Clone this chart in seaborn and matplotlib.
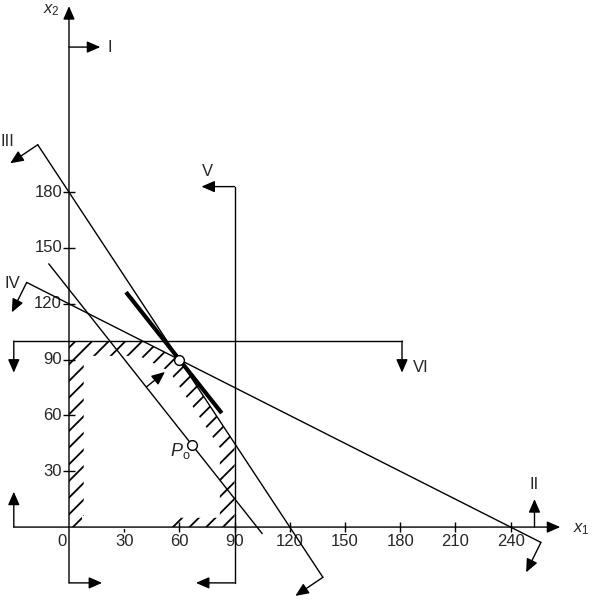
import numpy as np
import pandas as pd
import matplotlib.pyplot as plt
import seaborn as sns
from matplotlib.patches import Polygon, Rectangle

# constraints  a1*x1 + a2*x2 <= b   (III, IV)
con_names = ['III', 'IV']
con_a1 = [3, 1]
con_a2 = [2, 2]
con_b = [360, 240]
con_x_from = [-17, -23]
con_x_to = [138, 256.5]
x1_max = 90    # V
x2_max = 100   # VI

# objective 5 x1 + 4 x2
obj_c = [5, 4]
p0 = [67, 44]
opt = [60, 90]

xticks = [30, 60, 90, 120, 150, 180, 210, 240]
yticks = [30, 60, 90, 120, 150, 180]

sns.set_theme(style='white')
plt.rcParams['font.family'] = ['Liberation Sans', 'DejaVu Sans']
plt.rcParams['mathtext.fontset'] = 'custom'
plt.rcParams['mathtext.it'] = 'Liberation Sans:italic'
plt.rcParams['mathtext.rm'] = 'Liberation Sans'
plt.rcParams['hatch.linewidth'] = 1.3

fig = plt.figure(figsize=(5.93, 6.08), dpi=100)
ax = fig.add_axes([0, 0, 1, 1])
ax.set_xlim(-37.5, 284.8)
ax.set_ylim(-43.5, 283.3)
ax.axis('off')
fs = 12
K = 'black'


def arrow(tail, head):
    ax.annotate('', xy=head, xytext=tail,
                arrowprops=dict(arrowstyle='-|>,head_length=0.8,head_width=0.35',
                                color=K, lw=1, shrinkA=0, shrinkB=0,
                                mutation_scale=10), zorder=5)


# axes with arrows
arrow((-30, 0), (267, 0))
arrow((0, -30), (0, 280))
ax.text(274, -1, r'$x_1$', fontsize=fs, va='center', ha='left')
ax.text(-5, 278, r'$x_2$', fontsize=fs, va='center', ha='right')

# ticks and labels
ax.plot(xticks, [0] * len(xticks), ls='none', marker='|', ms=7, mew=1, color=K)
ax.plot([0] * len(yticks), yticks, ls='none', marker='_', ms=8, mew=1, color=K)
for t in xticks:
    ax.text(t, -7.5, str(t), fontsize=fs, ha='center', va='center')
for t in yticks:
    ax.text(-3.8, t, str(t), fontsize=fs, ha='right', va='center')
ax.text(-3.8, -7.5, '0', fontsize=fs, ha='center', va='center')

# hatched band inside feasible region
A = np.array([[0, -1], [1, 0], [con_a1[0], con_a2[0]], [con_a1[1], con_a2[1]], [0, 1], [-1, 0]], float)
B = np.array([0, x1_max, con_b[0], con_b[1], x2_max, 0], float)


def vertices(offs):
    bb = B - np.array(offs) * np.linalg.norm(A, axis=1)
    pts = []
    for i in range(len(A)):
        j = (i + 1) % len(A)
        pts.append(np.linalg.solve(A[[i, j]], bb[[i, j]]))
    return np.array(pts)


feas = vertices([0] * 6)
inner = vertices([5, 8, 8, 8, 8, 8])
ax.add_patch(Polygon(feas, closed=True, facecolor='none', edgecolor=K, lw=0,
                     hatch='//', zorder=1))
ax.add_patch(Polygon(inner, closed=True, facecolor='white', edgecolor='none', zorder=2))
ax.add_patch(Rectangle((7, -1), 46, 7, facecolor='white', edgecolor='none', zorder=2))

# constraint lines III and IV
rows = []
for n, a1, a2, b, x0, x1 in zip(con_names, con_a1, con_a2, con_b, con_x_from, con_x_to):
    for x in (x0, x1):
        rows.append({'line': n, 'x1': x, 'x2': (b - a1 * x) / a2})
# objective lines through P0 and optimum
z0 = obj_c[0] * p0[0] + obj_c[1] * p0[1]
zopt = obj_c[0] * opt[0] + obj_c[1] * opt[1]
for x in (-11, 105):
    rows.append({'line': 'z0', 'x1': x, 'x2': (z0 - obj_c[0] * x) / obj_c[1]})
df = pd.DataFrame(rows)
sns.lineplot(data=df, x='x1', y='x2', units='line', estimator=None, sort=False,
             color=K, lw=1, ax=ax, zorder=3)
zx = np.array([31, 83])
ax.plot(zx, (zopt - obj_c[0] * zx) / obj_c[1], color=K, lw=3, zorder=3, solid_capstyle='butt')

# V and VI
ax.plot([x1_max, x1_max], [-30, 183], color=K, lw=1, zorder=3)
ax.plot([-30, 181], [x2_max, x2_max], color=K, lw=1, zorder=3)

# direction arrows
arrow((0, 258), (17, 258))
ax.text(21, 258, 'I', fontsize=fs, va='center', ha='left')
arrow((0, -30), (18, -30))
arrow((-30, 0), (-30, 19))
arrow((253, 0), (253, 15))
ax.text(253, 23, 'II', fontsize=fs, va='center', ha='center')
arrow((x1_max, 183), (x1_max - 18, 183))
ax.text(75, 191, 'V', fontsize=fs, va='center', ha='center')
arrow((x1_max, -30), (x1_max - 21, -30))
arrow((-30, x2_max), (-30, x2_max - 17))
arrow((181, x2_max), (181, x2_max - 17))
ax.text(187, 86, 'VI', fontsize=fs, va='center', ha='left')

for n, a1, a2, b, x0, x1, L, lab in zip(con_names, con_a1, con_a2, con_b,
                                         con_x_from, con_x_to, [18, 18], [(-37.3, 207), (-35, 131)]):
    nv = np.array([a1, a2], float) / np.hypot(a1, a2)
    for x in (x0, x1):
        p = np.array([x, (b - a1 * x) / a2])
        arrow(p, p - L * nv)
    ax.text(lab[0], lab[1], n, fontsize=fs, va='center', ha='left')

# objective direction arrow
nz = np.array(obj_c, float) / np.hypot(*obj_c)
tail = np.array([42, (z0 - obj_c[0] * 42) / obj_c[1]])
arrow(tail, tail + 13 * nz)

# points
ax.plot(*p0, marker='o', ms=7, mfc='white', mec=K, mew=1, zorder=6)
ax.plot(*opt, marker='o', ms=7, mfc='white', mec=K, mew=1, zorder=6)
ax.text(60.5, 41, r'$P_\mathrm{o}$', fontsize=fs + 1, ha='center', va='center')

fig.savefig('out.png', dpi=100, facecolor='white')
